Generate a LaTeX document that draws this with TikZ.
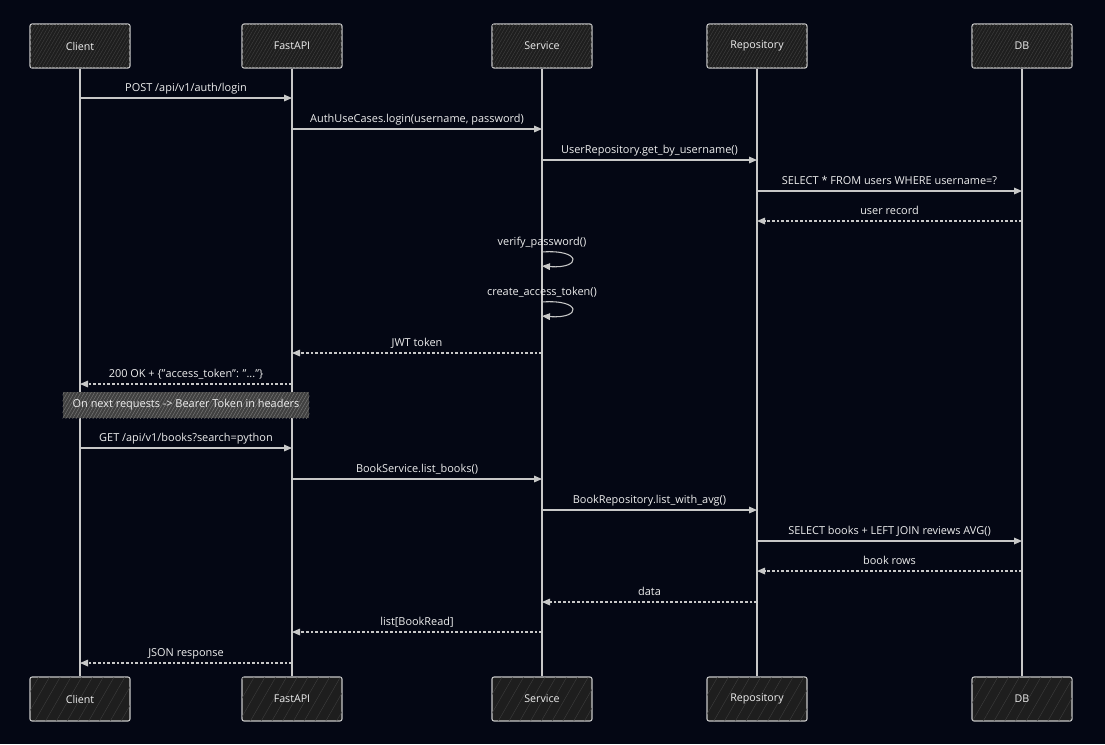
\documentclass[tikz,border=0pt]{standalone}
\usepackage{fontspec}
\setmainfont{Open Sans}
\usetikzlibrary{patterns.meta,arrows.meta,calc}
\definecolor{bg}{RGB}{4,7,20}
\definecolor{boxfill}{RGB}{30,30,30}
\definecolor{hatch}{RGB}{62,62,62}
\definecolor{ln}{RGB}{200,200,200}
\definecolor{txt}{RGB}{238,238,238}
\tikzset{
  part/.style={draw=ln, line width=0.8pt, rounded corners=1.5pt, minimum width=75pt, minimum height=33pt,
    fill=boxfill, postaction={pattern={Lines[angle=60,distance=2.2pt,line width=0.35pt]}, pattern color=hatch},
    text=txt, font=\fontsize{8}{9.5}\selectfont, inner sep=0pt},
  partb/.style={draw=ln, line width=0.8pt, rounded corners=1.5pt, minimum width=75pt, minimum height=33pt,
    fill=boxfill, postaction={pattern={Lines[angle=60,distance=7pt,line width=0.3pt]}, pattern color=hatch},
    text=txt, font=\fontsize{8}{9.5}\selectfont, inner sep=0pt},
  life/.style={draw=ln, line width=1pt},
  msg/.style={draw=ln, line width=0.8pt, -{Triangle[length=6pt,width=5pt]}},
  ret/.style={msg, dash pattern=on 2pt off 1.5pt},
  lbl/.style={text=txt, font=\fontsize{8.2}{9.5}\selectfont, inner sep=0pt, anchor=base},
  note/.style={draw=none, fill=boxfill!85!white, postaction={pattern={Lines[angle=60,distance=2.2pt,line width=0.35pt]}, pattern color=hatch!70!white},
    text=txt!80, font=\fontsize{8.2}{9.5}\selectfont, minimum width=185pt, minimum height=19.5pt, inner sep=0pt}
}
\begin{document}
\begin{tikzpicture}[x=0.75pt,y=-0.75pt]
\fill[bg] (0,0) rectangle (1105,744);
\useasboundingbox (0,0) rectangle (1105,744);
% participants top
\node[part] (c1) at (80,46) {Client};
\node[part] (f1) at (292,46) {FastAPI};
\node[part] (s1) at (542,46) {Service};
\node[part] (r1) at (757,46) {Repository};
\node[part] (d1) at (1022,46) {DB};
% participants bottom
\node[partb] (c2) at (80,699) {Client};
\node[partb] (f2) at (292,699) {FastAPI};
\node[partb] (s2) at (542,699) {Service};
\node[partb] (r2) at (757,699) {Repository};
\node[partb] (d2) at (1022,699) {DB};
% lifelines
\draw[life] (c1.south) -- (c2.north);
\draw[life] (f1.south) -- (f2.north);
\draw[life] (s1.south) -- (s2.north);
\draw[life] (r1.south) -- (r2.north);
\draw[life] (d1.south) -- (d2.north);
% messages
\newcommand{\msgline}[5]{%
  \draw[#1] (#2 |- 0,#4) -- (#3 |- 0,#4);
  \node[lbl] at ($(#2 |- 0,#4)!0.5!(#3 |- 0,#4) + (0,-7)$) {#5};}
\msgline{msg}{c1}{f1}{98}{POST /api/v1/auth/login}
\msgline{msg}{f1}{s1}{129}{AuthUseCases.login(username, password)}
\msgline{msg}{s1}{r1}{160}{UserRepository.get\_by\_username()}
\msgline{msg}{r1}{d1}{191}{SELECT * FROM users WHERE username=?}
\msgline{ret}{d1}{r1}{221}{user record}
% self calls
\node[lbl] at ($(s1 |- 0,245)$) {verify\_password()};
\draw[msg] (s1 |- 0,252) .. controls ($(s1 |- 0,249)+(40,0)$) and ($(s1 |- 0,269)+(40,0)$) .. (s1 |- 0,266);
\node[lbl] at ($(s1 |- 0,295)$) {create\_access\_token()};
\draw[msg] (s1 |- 0,302) .. controls ($(s1 |- 0,299)+(40,0)$) and ($(s1 |- 0,319)+(40,0)$) .. (s1 |- 0,316);
\msgline{ret}{s1}{f1}{353}{JWT token}
\msgline{ret}{f1}{c1}{384}{200 OK + \{"access\_token": "..."\}}
\node[note] (n1) at (186,405) {On next requests -> Bearer Token in headers};
\msgline{msg}{c1}{f1}{448}{GET /api/v1/books?search=python}
\msgline{msg}{f1}{s1}{479}{BookService.list\_books()}
\msgline{msg}{s1}{r1}{510}{BookRepository.list\_with\_avg()}
\msgline{msg}{r1}{d1}{541}{SELECT books + LEFT JOIN reviews AVG()}
\msgline{ret}{d1}{r1}{571}{book rows}
\msgline{ret}{r1}{s1}{602}{data}
\msgline{ret}{s1}{f1}{632}{list[BookRead]}
\msgline{ret}{f1}{c1}{663}{JSON response}
\end{tikzpicture}
\end{document}
